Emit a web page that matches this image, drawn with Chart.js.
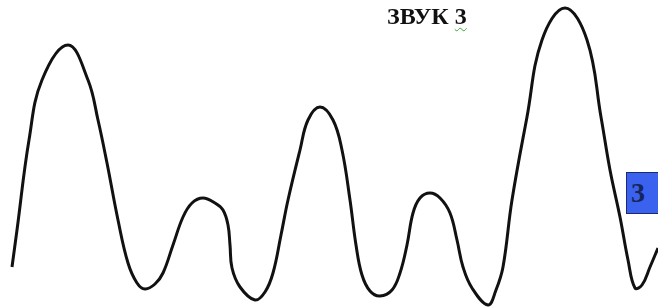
<!DOCTYPE html>
<html>
<head>
<meta charset="utf-8">
<script src="https://cdn.jsdelivr.net/npm/chart.js@4"></script>
<style>
  html, body { margin: 0; padding: 0; background: #fff; }
  #wrap { position: relative; width: 658px; height: 308px; overflow: hidden; }
  #title {
    position: absolute; left: 387px; top: 3px;
    font: bold 24px "Liberation Serif", "DejaVu Serif", serif; color: #111;
    white-space: nowrap;
  }
  #title span { text-decoration: underline wavy #3a3; text-decoration-thickness: 1px; text-underline-offset: 3px; }
  #badge {
    position: absolute; left: 626px; top: 172px; width: 36px; height: 42px;
    background: #3b62ee; border: 1px solid #1a2a6a; box-sizing: border-box;
    font: bold 28px "Liberation Serif", serif; color: #16255c;
    padding-left: 4px; line-height: 40px;
  }
</style>
</head>
<body>
<div id="wrap">
  <canvas id="waveChart" width="658" height="308"></canvas>
  <div id="title">ЗВУК <span>3</span></div>
  <div id="badge">3</div>
</div>
<script>
// Точки кривой (x — положение, y — высота над нижним краем)
const xs = [12, 17, 29, 42, 68, 88, 98, 107, 118, 128, 137, 145, 155, 163, 173, 183, 192, 203,
            215, 223, 228, 230, 232, 240, 255, 265, 273, 281, 288, 300, 308, 320, 333, 342, 350, 356,
            362, 370, 380, 392, 400, 407, 413, 420, 430, 440, 450, 457, 463, 472, 488, 496, 503, 512,
            527, 542, 565, 587, 601, 610, 620, 628, 635, 642, 650, 658];
const ys = [41, 78, 168, 228, 263, 228, 188, 145, 88, 45, 25, 19, 24, 35, 63, 91, 105, 110,
            105, 98, 83, 63, 40, 21, 8, 16, 35, 73, 108, 158, 188, 201, 188, 158, 108, 63,
            33, 17, 12, 18, 35, 63, 95, 110, 115, 110, 95, 68, 41, 20, 3, 18, 41, 108,
            191, 268, 300, 268, 191, 138, 91, 48, 20, 23, 41, 60];

let points = [];
for (let i = 0; i < xs.length; i++) {
    points.push({ x: xs[i], y: ys[i] });
}

const ctx = document.getElementById('waveChart').getContext('2d');
const chart = new Chart(ctx, {
    type: 'line',
    data: {
        datasets: [{
            label: 'Звук 3',
            data: points,
            borderColor: '#111',
            borderWidth: 3,
            pointRadius: 0,
            fill: false,
            tension: 0.4
        }]
    },
    options: {
        responsive: false,
        animation: false,
        layout: { padding: 0 },
        plugins: {
            legend: { display: false },
            tooltip: { enabled: false }
        },
        scales: {
            x: { type: 'linear', min: 0, max: 658, display: false },
            y: { min: 0, max: 308, display: false }
        }
    }
});
</script>
</body>
</html>
